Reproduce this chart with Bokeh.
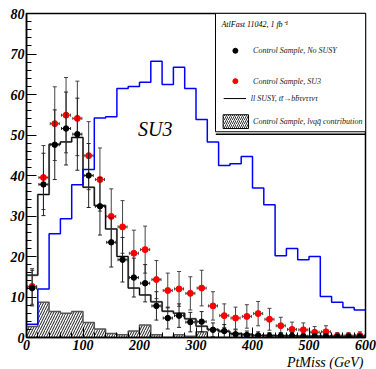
import math
from bokeh.plotting import figure
from bokeh.models import Range1d, SingleIntervalTicker, Title
from bokeh.core.properties import value
from bokeh.embed import file_html
from bokeh.resources import INLINE

# ---------------- data ----------------
bin_edges = list(range(0, 620, 20))
bin_centers = [e + 10 for e in bin_edges[:-1]]

su3_hist = [3.3, 12.0, 25.6, 29.3, 37.7, 41.5, 54.2, 54.5, 61.5, 62.0,
            63.0, 68.2, 62.5, 66.7, 61.5, 53.8, 48.3, 42.5, 42.9, 44.7,
            36.9, 32.8, 20.2, 22.0, 19.2, 20.0, 10.1, 8.7, 7.4, 6.8]

ll_susy_hist = [15.4, 35.3, 47.7, 48.3, 49.4, 37.1, 32.6, 26.8, 20.0, 12.2,
                10.5, 8.8, 6.5, 6.0, 4.6, 2.8, 2.0, 1.5, 1.0, 0.8,
                0.5, 0.5, 0.4, 0.4, 0.3, 0.3, 0.3, 0.2, 0.2, 0.2]

lvqq_hist = [2.7, 8.7, 6.4, 6.0, 6.4, 3.7, 2.1, 1.0, 0.7, 1.6,
             3.1, 0.7, 0.0, 0.7, 0.3, 1.4, 0.0, 0.0, 0.0, 0.0,
             0.0, 0.0, 0.0, 0.0, 0.0, 0.0, 0.0, 0.0, 0.0, 0.0]

cs_nosusy = [12.2, 37.8, 47.6, 51.6, 50.2, 40.0, 32.4, 23.5, 19.2, 14.8,
             13.4, 7.8, 4.8, 5.4, 3.8, 3.9, 1.9, 1.6, 0.8, 0.6,
             0.5, 0.4, 0.4, 0.4, 0.3, 0.3, 0.3, 0.2, 0.2, 0.2]
cs_nosusy_err = [4.4, 7.7, 8.6, 9.0, 8.9, 7.9, 7.1, 6.1, 5.5, 4.8,
                 4.6, 3.5, 2.7, 2.9, 2.4, 2.5, 1.7, 1.6, 1.1, 1.0,
                 0.9, 0.8, 0.8, 0.8, 0.7, 0.7, 0.7, 0.6, 0.6, 0.6]

cs_su3 = [12.6, 39.5, 52.8, 54.9, 54.1, 44.9, 39.0, 29.9, 27.3, 20.8,
          21.7, 14.3, 11.6, 12.0, 10.9, 12.2, 7.8, 5.4, 4.8, 5.2,
          5.9, 4.5, 2.9, 2.0, 1.9, 1.3, 1.4, 0.4, 0.4, 0.5]
cs_su3_err = [4.4, 7.9, 9.1, 9.3, 9.2, 8.4, 7.8, 6.8, 6.5, 5.7,
              5.8, 4.7, 4.3, 4.3, 4.1, 4.4, 3.5, 2.9, 2.7, 2.9,
              3.0, 2.7, 2.1, 1.8, 1.7, 1.4, 1.5, 0.8, 0.8, 0.9]

x_ticks = [0, 100, 200, 300, 400, 500, 600]
y_ticks = [0, 10, 20, 30, 40, 50, 60, 70, 80]

FONT = value("Liberation Serif")

# ---------------- figure ----------------
p = figure(frame_width=339, frame_height=324,
           min_border_left=26, min_border_right=11,
           min_border_top=13, min_border_bottom=32,
           x_range=Range1d(0, 600), y_range=Range1d(0, 80),
           output_backend="svg", toolbar_location=None, tools="")
p.background_fill_color = "white"
p.border_fill_color = "white"
p.outline_line_color = "black"
p.outline_line_width = 1.5
p.grid.visible = False

for ax, interval in ((p.xaxis, 100), (p.yaxis, 10)):
    ax.ticker = SingleIntervalTicker(interval=interval, num_minor_ticks=5)
    ax.major_tick_in = 10
    ax.major_tick_out = 0
    ax.minor_tick_in = 5
    ax.minor_tick_out = 0
    ax.axis_line_width = 1.5
    ax.major_tick_line_width = 1
    ax.major_label_text_font = "Liberation Serif"
    ax.major_label_text_font_style = "bold italic"
    ax.major_label_text_font_size = "14px"
    ax.major_label_text_color = "black"
p.xaxis.major_label_standoff = 2
p.yaxis.major_label_standoff = 2

p.add_layout(Title(text="PtMiss (GeV)", align="right", text_font="Liberation Serif",
                   text_font_style="italic", text_font_size="14px",
                   text_color="black", standoff=0, offset=2), "below")


def step_xy(vals):
    return bin_edges, list(vals) + [vals[-1]]


# hatched l nu q qbar contribution
p.quad(left=bin_edges[:-1], right=bin_edges[1:], bottom=0, top=lvqq_hist,
       fill_color=None, line_color=None,
       hatch_pattern="/", hatch_color="black", hatch_scale=5, hatch_weight=0.9)
hx, hy = step_xy(lvqq_hist)
p.step(hx, hy, mode="after", line_color="#555555", line_width=1.5)

# ll SUSY histogram (grey + black thin)
lx, ly = step_xy(ll_susy_hist)
p.step(lx, ly, mode="after", line_color="#8a8a8a", line_width=2)
p.step(lx, ly, mode="after", line_color="black", line_width=1)

# SU3 histogram (blue)
sx, sy = step_xy(su3_hist)
p.step(sx, sy, mode="after", line_color="#0000ff", line_width=1.5)


def error_points(vals, errs, color, size, ecol):
    lo = [v - e for v, e in zip(vals, errs)]
    hi = [v + e for v, e in zip(vals, errs)]
    p.segment(x0=bin_centers, y0=lo, x1=bin_centers, y1=hi,
              line_color=ecol, line_width=1)
    p.scatter(x=bin_centers + bin_centers, y=lo + hi, marker="dash",
              size=4, line_color=ecol, line_width=1)
    xl = [c - 8 for c in bin_centers]
    xr = [c + 8 for c in bin_centers]
    p.segment(x0=xl, y0=vals, x1=xr, y1=vals, line_color=ecol, line_width=1)
    p.scatter(x=xl + xr, y=list(vals) + list(vals), marker="dash",
              angle=math.pi / 2, size=3, line_color=ecol, line_width=1)
    p.scatter(x=bin_centers, y=vals, marker="circle", size=size,
              fill_color=color, line_color=color)


error_points(cs_su3, cs_su3_err, "#ff0000", 6, "#444444")
error_points(cs_nosusy, cs_nosusy_err, "black", 5.5, "#222222")

# SU3 label
p.text(x=[228], y=[51.4], text=["SU3"], text_font=FONT,
       text_font_style="italic", text_font_size="20px",
       text_align="center", text_baseline="middle", text_color="black")

# ---------------- legend (drawn by hand) ----------------
p.segment(x0=[335], y0=[50.2], x1=[600], y1=[50.2], line_color="black", line_width=1.5)
p.quad(left=[334.5], right=[600], bottom=[50.8], top=[80],
       fill_color="white", line_color="black", line_width=1)
p.text(x=[345], y=[77.2], text=["AtlFast 11042, 1 fb\u207b\u00b9"], text_font=FONT,
       text_font_style="italic", text_font_size="8px",
       text_baseline="middle", text_color="black")
p.scatter(x=[369.7], y=[70.8], marker="circle", size=5,
          fill_color="black", line_color="black")
p.scatter(x=[369.7], y=[63.3], marker="circle", size=5,
          fill_color="#ff0000", line_color="#ff0000")
p.segment(x0=[349], y0=[59.0], x1=[388.6], y1=[59.0], line_color="black", line_width=1)
p.quad(left=[348], right=[393], bottom=[51.6], top=[55.0],
       fill_color="white", line_color="black", line_width=1,
       hatch_pattern="/", hatch_color="black", hatch_scale=4, hatch_weight=0.8)
leg_texts = ["Control Sample, No SUSY", "Control Sample, SU3",
             "ll SUSY, tt\u0304\u2192bb\u0304\u03c4\u03bd\u03c4\u03c4\u03bd\u03c4",
             "Control Sample, l\u03bdqq\u0304 contribution"]
p.text(x=[401, 401, 397, 401], y=[70.8, 63.3, 59.0, 53.3], text=leg_texts,
       text_font=FONT, text_font_style="italic", text_font_size="8px",
       text_baseline="middle", text_color="#222222")

open("out.html", "w").write(file_html(p, INLINE))
